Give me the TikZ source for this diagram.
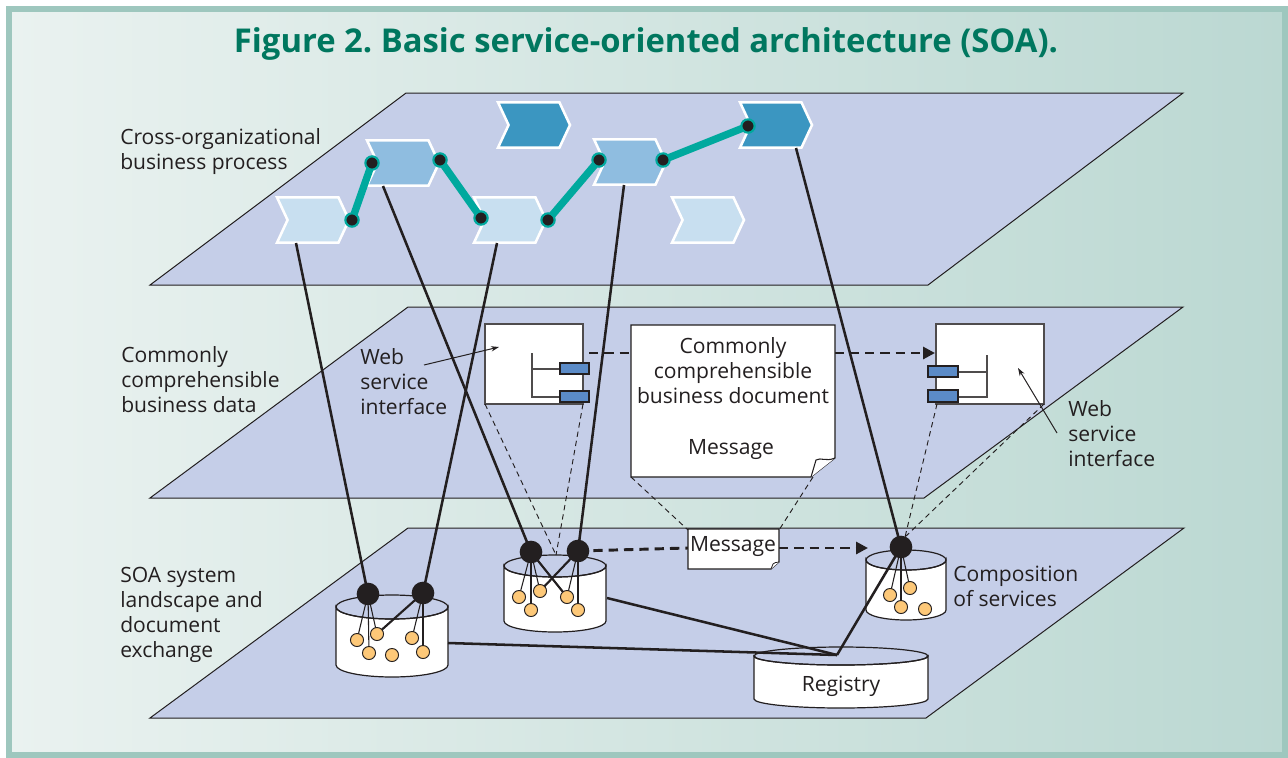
\documentclass[tikz,border=0pt]{standalone}
\usepackage{fontspec}
\setmainfont{Open Sans}
\usetikzlibrary{arrows.meta,shapes.symbols}
\definecolor{bgL}{HTML}{EAF2F0}
\definecolor{bgR}{HTML}{BBD8D2}
\definecolor{framec}{HTML}{9EC7BE}
\definecolor{planec}{HTML}{C5CEE8}
\definecolor{chevL}{HTML}{C8DFF0}
\definecolor{chevM}{HTML}{8FBDE0}
\definecolor{chevD}{HTML}{3B96C1}
\definecolor{tealc}{HTML}{00A99E}
\definecolor{orangec}{HTML}{FDC878}
\definecolor{bluec}{HTML}{5B8BC7}
\definecolor{txt}{HTML}{231F20}
\definecolor{titlec}{HTML}{00775F}
\newcommand\lblfont{\fontsize{15.8}{18.75}\selectfont}
\newcommand\mycyl[5]{%
  \filldraw[fill=white, draw=txt, line width=0.9pt] (#1-#4,#2) -- (#1-#4,#3)
    arc[start angle=180, end angle=0, x radius=#4, y radius=#5] -- (#1+#4,#2)
    arc[start angle=0, end angle=180, x radius=#4, y radius=#5] -- cycle;
  \draw[txt, line width=0.9pt] (#1,#2) ellipse[x radius=#4, y radius=#5];}
\frenchspacing
\begin{document}
\begin{tikzpicture}[x=0.75pt,y=-0.75pt,
  plane/.style={fill=planec, draw=txt, line width=0.75pt},
  chev/.style={shape=signal, signal to=east, signal from=west, signal pointer angle=130,
    minimum width=54pt, minimum height=34pt, draw=white, line width=1.9pt, inner sep=0pt},
  tealln/.style={draw=tealc, line width=5.5pt},
  tdot/.style={circle, fill=txt, draw=tealc, line width=1.6pt, minimum size=10pt, inner sep=0pt},
  bigdot/.style={circle, fill=txt, minimum size=17pt, inner sep=0pt},
  odot/.style={circle, fill=orangec, draw=txt, line width=0.7pt, minimum size=9.8pt, inner sep=0pt},
  heavy/.style={draw=txt, line width=1.9pt},
  fine/.style={draw=txt, line width=0.8pt},
  proj/.style={draw=txt, line width=0.7pt, dash pattern=on 4pt off 3pt},
  flow/.style={draw=txt, line width=2.2pt, dash pattern=on 7pt off 4.5pt, -{Triangle[length=9pt,width=9pt]}},
  lbl/.style={font=\lblfont, text=txt, align=left, inner sep=0pt},
  ptr/.style={draw=txt, line width=0.75pt, -{Stealth[length=6pt,width=4pt]}},
  iface/.style={fill=white, draw=txt!80, line width=0.9pt},
  port/.style={fill=bluec, draw=txt, line width=0.8pt},
]
\useasboundingbox (0,0) rectangle (1288,757);
\fill[white] (0,0) rectangle (1288,757);
\shade[left color=bgL, right color=bgR] (9,9) rectangle (1285,755);
\draw[framec, line width=3.8pt] (9,9) rectangle (1285,755);

% title
\node[font=\fontsize{24.6}{29}\selectfont\bfseries, text=titlec] (title) at (646,44) {Figure 2. Basic service-oriented architecture (SOA).};

% planes
\path[plane] (406,93) -- (1183,93) -- (928,285) -- (150,285) -- cycle;
\path[plane] (408,307) -- (1183,307) -- (924,498) -- (150,498) -- cycle;
\path[plane] (408,528) -- (1184,528) -- (926,718) -- (150,718) -- cycle;

% top layer: chevrons
\node[chev, fill=chevL] (A) at (313,220) {};
\node[chev, fill=chevM] (B) at (403,163) {};
\node[chev, fill=chevD] (C) at (534,125) {};
\node[chev, fill=chevL] (D) at (510,220) {};
\node[chev, fill=chevM] (E) at (630,162) {};
\node[chev, fill=chevL] (F) at (708,220) {};
\node[chev, fill=chevD] (G) at (776,125) {};

\coordinate (a1) at (352,220);
\coordinate (b0) at (372,163);
\coordinate (b1) at (440,160);
\coordinate (d0) at (481,218);
\coordinate (d1) at (548,220);
\coordinate (e0) at (599,160);
\coordinate (e1) at (663,160);
\coordinate (g0) at (748,126);
\draw[tealln] (a1) -- (b0);
\draw[tealln] (b1) -- (d0);
\draw[tealln] (d1) -- (e0);
\draw[tealln] (e1) -- (g0);
\foreach \p in {a1,b0,b1,d0,d1,e0,e1,g0} \node[tdot] at (\p) {};

% middle layer
\coordinate (fl0) at (589,353);
\coordinate (fl1) at (935,353);
\draw[flow] (fl0) -- (fl1);

\path[iface] (485,324) rectangle (583,404);
\draw[fine, txt!80] (532,353) -- (532,397) -- (560,397);
\draw[fine, txt!80] (532,369) -- (560,369);
\path[port] (560,363) rectangle (589,374);
\path[port] (560,391) rectangle (589,402);

\path[iface] (936,324) rectangle (1044,404);
\draw[fine, txt!80] (987,355) -- (987,397) -- (958,397);
\draw[fine, txt!80] (987,372) -- (958,372);
\path[port] (928,366) rectangle (958,377);
\path[port] (928,390) rectangle (958,402);

\filldraw[fill=white, draw=txt, line width=0.8pt] (631,325) -- (835,325) -- (835,458) -- (811,477) -- (631,477) -- cycle;
\filldraw[fill=white, draw=txt, line width=0.8pt] (835,458) .. controls (826,462) and (821,457) .. (816,460) -- (811,477);

% labels with pointers
\node[lbl, anchor=west] (wl) at (360,382) {Web\\service\\interface};
\node[lbl, anchor=west] (wr) at (1068,434) {Web\\service\\interface};
\coordinate (wlp0) at (424,365);
\coordinate (wlp1) at (499,347);
\coordinate (wrp0) at (1057,433);
\coordinate (wrp1) at (1018,368);
\draw[ptr] (wlp0) -- (wlp1);
\draw[ptr] (wrp0) -- (wrp1);

% bottom layer: cylinders
\mycyl{392}{607}{665}{56}{12}
\mycyl{555}{566}{621}{51}{11}
\mycyl{906}{560}{610}{40}{10}
\mycyl{841}{656}{699}{87}{9}
\node[lbl] (rg) at (841,686) {Registry};

\coordinate (L1) at (368,594);
\coordinate (L2) at (423,593);
\coordinate (M1) at (531,552);
\coordinate (M2) at (578,551);
\coordinate (R1) at (901,547);
\coordinate (J) at (837,655);

\coordinate (lo1) at (357,640);
\coordinate (lo2) at (377,634);
\coordinate (lo3) at (369,653);
\coordinate (lo4) at (392,655);
\coordinate (lo5) at (412,638);
\coordinate (lo6) at (423,652);
\coordinate (mo1) at (519,597);
\coordinate (mo2) at (540,591);
\coordinate (mo3) at (531,610);
\coordinate (mo4) at (567,597);
\coordinate (mo5) at (578,610);
\coordinate (ro1) at (890,595);
\coordinate (ro2) at (910,588);
\coordinate (ro3) at (901,607);
\coordinate (ro4) at (925,609);

\draw[fine] (L1) -- (lo1);
\draw[fine] (L1) -- (lo3);
\draw[fine] (L1) -- (lo2);
\draw[heavy, line width=1.6pt] (L2) -- (lo2);
\draw[fine] (L2) -- (lo5);
\draw[fine] (L2) -- (lo6);
\draw[fine] (M1) -- (mo1);
\draw[fine] (M1) -- (mo3);
\draw[fine] (M1) -- (mo2);
\draw[heavy, line width=1.6pt] (M1) -- (mo4);
\draw[heavy, line width=1.6pt] (M2) -- (mo2);
\draw[fine] (M2) -- (mo4);
\draw[fine] (M2) -- (mo5);
\draw[fine] (R1) -- (ro1);
\draw[fine] (R1) -- (ro2);
\draw[fine] (R1) -- (ro3);
\foreach \p in {lo1,lo2,lo3,lo4,lo5,lo6,mo1,mo2,mo3,mo4,mo5,ro1,ro2,ro3,ro4} \node[odot] at (\p) {};

% registry connections
\coordinate (lcr) at (448,643);
\coordinate (mcr) at (607,598);
\draw[heavy] (lcr) -- (J);
\draw[heavy] (mcr) -- (J);
\draw[heavy] (R1) -- (J);

% projection lines
\coordinate (mtop) at (556,555);
\coordinate (rtop) at (905,537);
\coordinate (lb1) at (485,404);
\coordinate (lb2) at (583,404);
\coordinate (rb1) at (937,404);
\coordinate (rb2) at (1044,404);
\coordinate (db1) at (631,477);
\coordinate (db2) at (813,477);
\coordinate (mb1) at (688,530);
\coordinate (mb2) at (779,530);
\draw[proj] (lb1) -- (mtop);
\draw[proj] (lb2) -- (mtop);
\draw[proj] (rb1) -- (rtop);
\draw[proj] (rb2) -- (rtop);
\draw[proj] (db1) -- (mb1);
\draw[proj] (db2) -- (mb2);

% long lines from chevrons
\coordinate (cA) at (296,243);
\coordinate (cB) at (383,186);
\coordinate (cD) at (497,243);
\coordinate (cE) at (624,185);
\coordinate (cG) at (796,148);
\draw[heavy] (cA) -- (L1);
\draw[heavy] (cB) -- (M1);
\draw[heavy] (cD) -- (L2);
\draw[heavy] (cE) -- (M2);
\draw[heavy] (cG) -- (R1);

% bottom message flow
\coordinate (msgL) at (688,548);
\coordinate (msgR) at (779,548);
\coordinate (rin) at (868,548);
\draw[flow, -] (M2) -- (msgL);
\draw[flow] (msgR) -- (rin);
\filldraw[fill=white, draw=txt, line width=0.8pt] (688,529) -- (779,529) -- (779,562) -- (771,569) -- (688,569) -- cycle;
\filldraw[fill=white, draw=txt, line width=0.6pt] (779,562) .. controls (776,563) and (774,562) .. (773,564) -- (771,569);
\node[lbl] (msg) at (733,547) {Message};

\foreach \p in {L1,L2,M1,M2,R1} \node[bigdot] at (\p) {};

% texts
\node[lbl, anchor=west] (lp) at (120,152) {Cross-organizational\\business process};
\node[lbl, anchor=west] (ld) at (121,380) {Commonly\\comprehensible\\business data};
\node[lbl, anchor=west] (ls) at (120,615) {SOA system\\landscape and\\document\\exchange};
\node[lbl, anchor=west] (cs) at (953,586) {Composition\\of services};
\node[lbl, align=center] (dt) at (733,371) {Commonly\\comprehensible\\business document};
\node[lbl] (dm) at (731,450) {Message};
\end{tikzpicture}
\end{document}
